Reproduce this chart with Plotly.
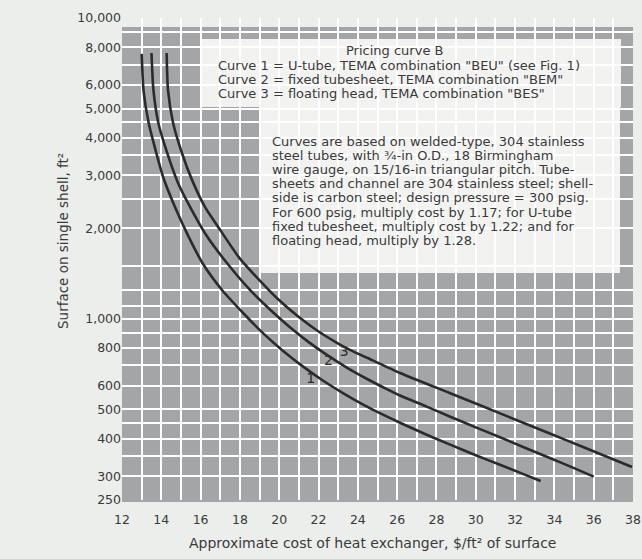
import math
import plotly.graph_objects as go

# ---------------- data ----------------
x_ticks = [12, 14, 16, 18, 20, 22, 24, 26, 28, 30, 32, 34, 36, 38]
y_ticks = [250, 300, 400, 500, 600, 800, 1000, 2000, 3000, 4000, 5000, 6000, 8000, 10000]
y_tick_text = ["250", "300", "400", "500", "600", "800", "1,000", "2,000", "3,000",
               "4,000", "5,000", "6,000", "8,000", "10,000"]
y_minor = [350, 450, 700, 900, 1100, 1250, 1500, 2500, 3500, 4500, 7000, 9000]

curve1_x = [13.0, 13.1, 13.35, 13.7, 14.1, 14.7, 15.4, 16.1, 17.1, 18.2, 19.2, 20.2, 21.2, 22.2,
            23.2, 24.2, 25.2, 26.2, 27.5, 28.7, 30.0, 31.2, 32.3, 33.3]
curve1_y = [7600, 5700, 4500, 3650, 2950, 2350, 1870, 1531, 1245, 1040, 893, 782, 695, 625,
            569, 522, 483, 450, 412, 382, 352, 328, 307, 289]

curve2_x = [13.5, 13.6, 13.85, 14.3, 14.85, 15.55, 16.35, 17.35, 18.5, 19.5, 20.5, 21.5, 22.5,
            23.5, 24.5, 25.5, 26.15, 27.5, 28.7, 30.0, 31.2, 32.5, 33.8, 35.0, 36.0]
curve2_y = [7650, 5750, 4480, 3560, 2830, 2300, 1870, 1530, 1250, 1079, 944, 837, 753,
            685, 630, 583, 556, 511, 473, 436, 405, 373, 344, 319, 299]

curve3_x = [14.27, 14.34, 14.6, 15.05, 15.56, 16.22, 17.0, 18.0, 19.0, 20.0, 21.0, 22.0, 23.0,
            23.6, 24.5, 26.15, 28.7, 31.24, 33.8, 35.46, 37.95]
curve3_y = [7650, 5765, 4477, 3558, 2897, 2355, 1972, 1585, 1343, 1153, 1014, 908, 828,
            789, 741, 661, 566, 485, 415, 375, 322]

curve_labels = ["1", "2", "3"]
label_x = [21.6, 22.5, 23.3]
label_y = [627, 719, 775]

title_lines = [
    "Curve 1 = U-tube, TEMA combination \"BEU\" (see Fig. 1)",
    "Curve 2 = fixed tubesheet, TEMA combination \"BEM\"",
    "Curve 3 = floating head, TEMA combination \"BES\"",
]
para_lines = [
    "Curves are based on welded-type, 304 stainless",
    "steel tubes, with \u00be-in O.D., 18 Birmingham",
    "wire gauge, on 15/16-in triangular pitch. Tube-",
    "sheets and channel are 304 stainless steel; shell-",
    "side is carbon steel; design pressure = 300 psig.",
    "For 600 psig, multiply cost by 1.17; for U-tube",
    "fixed tubesheet, multiply cost by 1.22; and for",
    "floating head, multiply by 1.28.",
]

# ---------------- layout geometry (pixels) ----------------
W, H = 642, 559
L, R, T, B = 122, 633, 18, 500
pw, ph = R - L, B - T


def px(xp):
    return (xp - L) / pw


def py(yp):
    return (B - yp) / ph


INK = "#2b2b2b"
TXT = "#3a3a3a"
GRAY = "#a4a5a7"
PAPER = "#eceeec"
BOX = "#f2f3f1"
FONT = "DejaVu Sans"

fig = go.Figure()
for cx, cy in [(curve1_x, curve1_y), (curve2_x, curve2_y), (curve3_x, curve3_y)]:
    fig.add_trace(go.Scatter(x=cx, y=cy, mode="lines",
                             line=dict(color=INK, width=2.6, shape="spline", smoothing=0.6),
                             showlegend=False, hoverinfo="skip"))

fig.add_trace(go.Scatter(x=label_x, y=label_y, mode="text", text=curve_labels,
                         textfont=dict(size=14, color=INK, family=FONT),
                         showlegend=False, hoverinfo="skip"))

shapes = [
    dict(type="rect", xref="paper", yref="paper", x0=0, x1=1, y0=py(502), y1=py(27),
         fillcolor=GRAY, line=dict(width=0), layer="below"),
    dict(type="rect", xref="paper", yref="paper", x0=px(200), x1=px(621), y0=py(107), y1=py(39),
         fillcolor=BOX, line=dict(width=0), layer="between"),
    dict(type="rect", xref="paper", yref="paper", x0=px(259), x1=px(620), y0=py(273), y1=py(106),
         fillcolor=BOX, line=dict(width=0), layer="between"),
]

annotations = []
annotations.append(dict(text="Pricing curve B", xref="paper", yref="paper", x=px(394), y=py(51),
                        showarrow=False, xanchor="center", yanchor="middle",
                        font=dict(size=13, color=TXT, family=FONT)))
for i, t in enumerate(title_lines):
    annotations.append(dict(text=t, xref="paper", yref="paper", x=px(216), y=py(65 + 14.2 * i),
                            showarrow=False, xanchor="left", yanchor="middle",
                            font=dict(size=13, color=TXT, family=FONT)))
for i, t in enumerate(para_lines):
    annotations.append(dict(text=t, xref="paper", yref="paper", x=px(270), y=py(141 + 14.2 * i),
                            showarrow=False, xanchor="left", yanchor="middle",
                            font=dict(size=13, color=TXT, family=FONT)))
annotations.append(dict(text="Approximate cost of heat exchanger, $/ft\u00b2 of surface",
                        xref="paper", yref="paper", x=px(372), y=py(543), showarrow=False,
                        xanchor="center", yanchor="middle",
                        font=dict(size=14, color=TXT, family=FONT)))
annotations.append(dict(text="Surface on single shell, ft\u00b2", xref="paper", yref="paper",
                        x=px(63), y=py(241), showarrow=False, textangle=-90,
                        xanchor="center", yanchor="middle",
                        font=dict(size=13.5, color=TXT, family=FONT)))

fig.update_layout(
    width=W, height=H,
    margin=dict(l=L, r=W - R, t=T, b=H - B),
    paper_bgcolor=PAPER, plot_bgcolor=PAPER,
    shapes=shapes, annotations=annotations,
    font=dict(family=FONT, color=TXT),
)
fig.update_xaxes(range=[12, 38], tickvals=x_ticks, ticks="", showline=False, zeroline=False,
                 automargin=False, ticklabelstandoff=10,
                 showgrid=True, gridcolor="white", gridwidth=2,
                 minor=dict(dtick=1, tick0=12, showgrid=True, gridcolor="white", gridwidth=2),
                 tickfont=dict(size=12.5, color=TXT, family=FONT))
fig.update_yaxes(type="log", range=[math.log10(250), 4], tickvals=y_ticks, ticktext=y_tick_text,
                 ticks="", showline=False, zeroline=False, automargin=False,
                 showgrid=True, gridcolor="white", gridwidth=2,
                 minor=dict(tickvals=y_minor, showgrid=True, gridcolor="white", gridwidth=2),
                 tickfont=dict(size=12.5, color=TXT, family=FONT))

fig.write_html("out.html", config={"displayModeBar": False},
               post_script="document.body.style.margin='0';"
                           "document.body.style.background='#eceeec';")
